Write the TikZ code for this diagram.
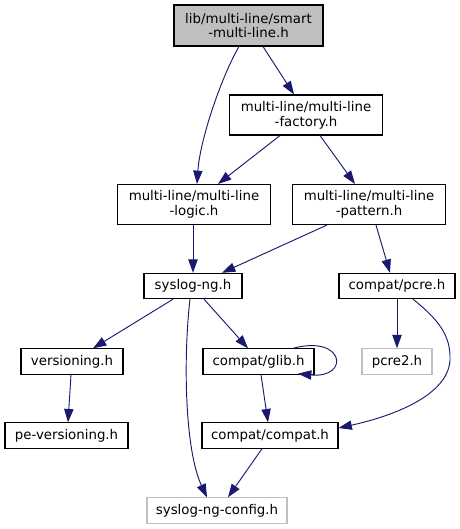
\documentclass[tikz,border=0pt]{standalone}
\usepackage{fontspec}
\setmainfont{DejaVu Sans}
\usetikzlibrary{arrows.meta,calc}
\definecolor{edgeblue}{HTML}{191970}
\definecolor{lightborder}{HTML}{BFBFBF}
\definecolor{topgray}{HTML}{BFBFBF}
\begin{document}
\begin{tikzpicture}[x=0.75pt,y=-0.75pt,
  box/.style={draw=black,line width=0.8pt,rectangle,inner sep=0pt,align=center,
    font=\fontsize{10}{11}\selectfont,text=black,minimum height=19pt},
  twoline/.style={box,minimum height=30pt,minimum width=114.75pt},
  graybox/.style={box,draw=lightborder},
  edge/.style={draw=edgeblue,line width=0.7pt,-{Triangle[length=10pt,width=7pt]}}]
\path[use as bounding box] (0,0) rectangle (460,529);

\node[twoline,fill=topgray,minimum width=111.75pt,minimum height=30.75pt] (top) at (248.5,25.5) {lib/multi-line/smart\\-multi-line.h};
\node[twoline] (factory) at (306,115) {multi-line/multi-line\\-factory.h};
\node[twoline] (logic) at (194,204.5) {multi-line/multi-line\\-logic.h};
\node[twoline] (pattern) at (369,204.5) {multi-line/multi-line\\-pattern.h};
\node[box,minimum width=73.5pt] (syslog) at (193,286) {syslog-ng.h};
\node[box,minimum width=87pt] (pcre) at (397,286) {compat/pcre.h};
\node[box,minimum width=76.5pt] (versioning) at (72,361.5) {versioning.h};
\node[box,minimum width=83.25pt] (glib) at (258.5,361.5) {compat/glib.h};
\node[graybox,minimum width=52.5pt] (pcretwo) at (397,361.5) {pcre2.h};
\node[box,minimum width=92.25pt] (peversioning) at (66.5,435.5) {pe-versioning.h};
\node[box,minimum width=102pt] (compat) at (270,435.5) {compat/compat.h};
\node[graybox,minimum width=105pt] (config) at (217,510.5) {syslog-ng-config.h};

\draw[edge] ($(top.south)+(-9.5,0)$) .. controls +(-17,29) and +(3,-45) .. ($(logic.north)+(3,0)$);
\draw[edge] ($(top.south)+(14.5,0)$) -- ($(factory.north)+(-12,0)$);
\draw[edge] ($(factory.south)+(-26,0)$) -- ($(logic.north)+(24,0)$);
\draw[edge] ($(factory.south)+(14,0)$) -- ($(pattern.north)+(-14,0)$);
\draw[edge] ($(logic.south)+(-1,0)$) -- (syslog.north);
\draw[edge] ($(pattern.south)+(-42,0)$) -- ($(syslog.north)+(29,0)$);
\draw[edge] ($(pattern.south)+(7,0)$) -- ($(pcre.north)+(-7,0)$);
\draw[edge] ($(syslog.south)+(-20,0)$) -- ($(versioning.north)+(21,0)$);
\draw[edge] ($(syslog.south)+(-3,0)$) .. controls +(-7,61) and +(-22,-47) .. ($(config.north)+(-10,0)$);
\draw[edge] ($(syslog.south)+(11,0)$) -- ($(glib.north)+(-10.5,0)$);
\draw[edge] ($(glib.north)+(34.5,0)$) .. controls +(52,-14) and +(52,5) .. ($(glib.south)+(39.5,-1)$);
\draw[edge] ($(glib.south)+(2.5,0)$) -- ($(compat.north)+(-2,0)$);
\draw[edge] (pcre.south) -- (pcretwo.north);
\draw[edge] ($(pcre.south)+(16,0)$) .. controls +(25,20) and +(1,-25) .. ++(37,61) .. controls +(-2,35) and +(55,-12) .. ($(compat.east)+(0,-7.5)$);
\draw[edge] ($(versioning.south)+(-1,0)$) -- ($(peversioning.north)+(1.5,0)$);
\draw[edge] ($(compat.south)+(-8,0)$) -- ($(config.north)+(11,0)$);
\end{tikzpicture}
\end{document}
